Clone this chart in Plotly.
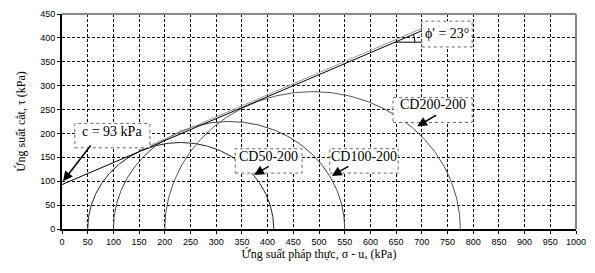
import numpy as np
import plotly.graph_objects as go

# ---- data ----
circle_names = ["CD50-200", "CD100-200", "CD200-200"]
sigma3 = [50, 100, 200]          # kPa, left end of Mohr circle
sigma1 = [412, 550, 775]         # kPa, right end of Mohr circle
circle_colors = ["#222222", "#444444", "#555555"]

cohesion = 93                    # kPa
env_slope = 0.46                 # tan of envelope as drawn
env_x = [0, 700]
gray_env_x = [150, 700]
gray_env_y = [165, 420]

x_ticks = list(range(0, 1001, 50))
y_ticks = list(range(0, 451, 50))

fig = go.Figure()

# Mohr circles (upper halves)
for s3, s1, col in zip(sigma3, sigma1, circle_colors):
    c = (s1 + s3) / 2
    r = (s1 - s3) / 2
    t = np.linspace(np.pi, 0, 200)
    fig.add_trace(go.Scatter(x=c + r * np.cos(t), y=r * np.sin(t), mode="lines",
                             line=dict(color=col, width=1), showlegend=False, hoverinfo="skip"))

# gray secondary envelope
fig.add_trace(go.Scatter(x=gray_env_x, y=gray_env_y, mode="lines",
                         line=dict(color="#999999", width=1), showlegend=False))
# failure envelope
env_y = [cohesion + env_slope * x for x in env_x]
fig.add_trace(go.Scatter(x=env_x, y=env_y, mode="lines",
                         line=dict(color="black", width=1), showlegend=False))

# angle marker: horizontal line + arc
y_h = 391
x_int = (y_h - cohesion) / env_slope
fig.add_trace(go.Scatter(x=[x_int, 745], y=[y_h, y_h], mode="lines",
                         line=dict(color="black", width=1), showlegend=False))
px_x, px_y = 0.514, 0.488
ang = np.arctan(env_slope * px_y / px_x)
a = np.linspace(0, ang, 30)
rad = 20
fig.add_trace(go.Scatter(x=x_int + rad * np.cos(a) / px_x, y=y_h + rad * np.sin(a) / px_y,
                         mode="lines", line=dict(color="black", width=1), showlegend=False))

# dotted label boxes
boxes = [(25, 171, 170, 221), (337, 467, 117, 168), (521, 654, 117, 168),
         (644, 798, 223, 275), (700, 798, 381, 435)]
for x0, x1, y0, y1 in boxes:
    fig.add_shape(type="rect", x0=x0, x1=x1, y0=y0, y1=y1,
                  line=dict(color="#666666", width=1, dash="dot"), fillcolor="white", layer="above")

tfont = dict(family="Liberation Serif", size=14, color="black")
labels = [("c = 93 kPa", 98, 205), (circle_names[0], 402, 152), (circle_names[1], 588, 152),
          (circle_names[2], 721, 260), ("ϕ' = 23°", 749, 410)]
for txt, x, y in labels:
    fig.add_annotation(x=x, y=y, text=txt, showarrow=False, font=tfont)

arrows = [((58, 178), (2, 100)), ((405, 133), (374, 113)), ((560, 133), (525, 111)),
          ((731, 240), (691, 215))]
for (tx, ty), (hx, hy) in arrows:
    fig.add_annotation(x=hx, y=hy, ax=tx, ay=ty, xref="x", yref="y", axref="x", ayref="y",
                       text="", showarrow=True, arrowhead=2, arrowsize=1.3, arrowwidth=1.5,
                       arrowcolor="black")

fig.update_xaxes(range=[0, 1000], tickvals=x_ticks, showgrid=True, gridcolor="black",
                 griddash="3px,2px", gridwidth=1, showline=True, linecolor="black", linewidth=2,
                 ticks="outside", ticklen=3, tickcolor="black", zeroline=False,
                 tickfont=dict(family="Liberation Sans", size=9, color="black"),
                 title=dict(text="Ứng suất pháp thực, σ - uₐ (kPa)", standoff=4,
                            font=dict(family="Liberation Serif", size=12, color="black")),
                 mirror=False)
fig.update_yaxes(range=[0, 450], tickvals=y_ticks, showgrid=True, gridcolor="black",
                 griddash="3px,2px", gridwidth=1, showline=True, linecolor="black", linewidth=2,
                 ticks="outside", ticklen=3, tickcolor="black", zeroline=False,
                 tickfont=dict(family="Liberation Sans", size=9, color="black"),
                 title=dict(text="Ứng suất cắt, τ (kPa)", standoff=12,
                            font=dict(family="Liberation Serif", size=12, color="black")))
# gray top/right frame
fig.add_shape(type="line", xref="paper", yref="paper", x0=0, x1=1, y0=1, y1=1,
              line=dict(color="#888888", width=2))
fig.add_shape(type="line", xref="paper", yref="paper", x0=1, x1=1, y0=0, y1=1,
              line=dict(color="#888888", width=2))

fig.update_layout(width=595, height=273, margin=dict(l=62, r=19, t=9, b=44),
                  plot_bgcolor="white", paper_bgcolor="white", showlegend=False)
fig.write_html("out.html", config={"displayModeBar": False},
               post_script="document.body.style.margin='0';")
